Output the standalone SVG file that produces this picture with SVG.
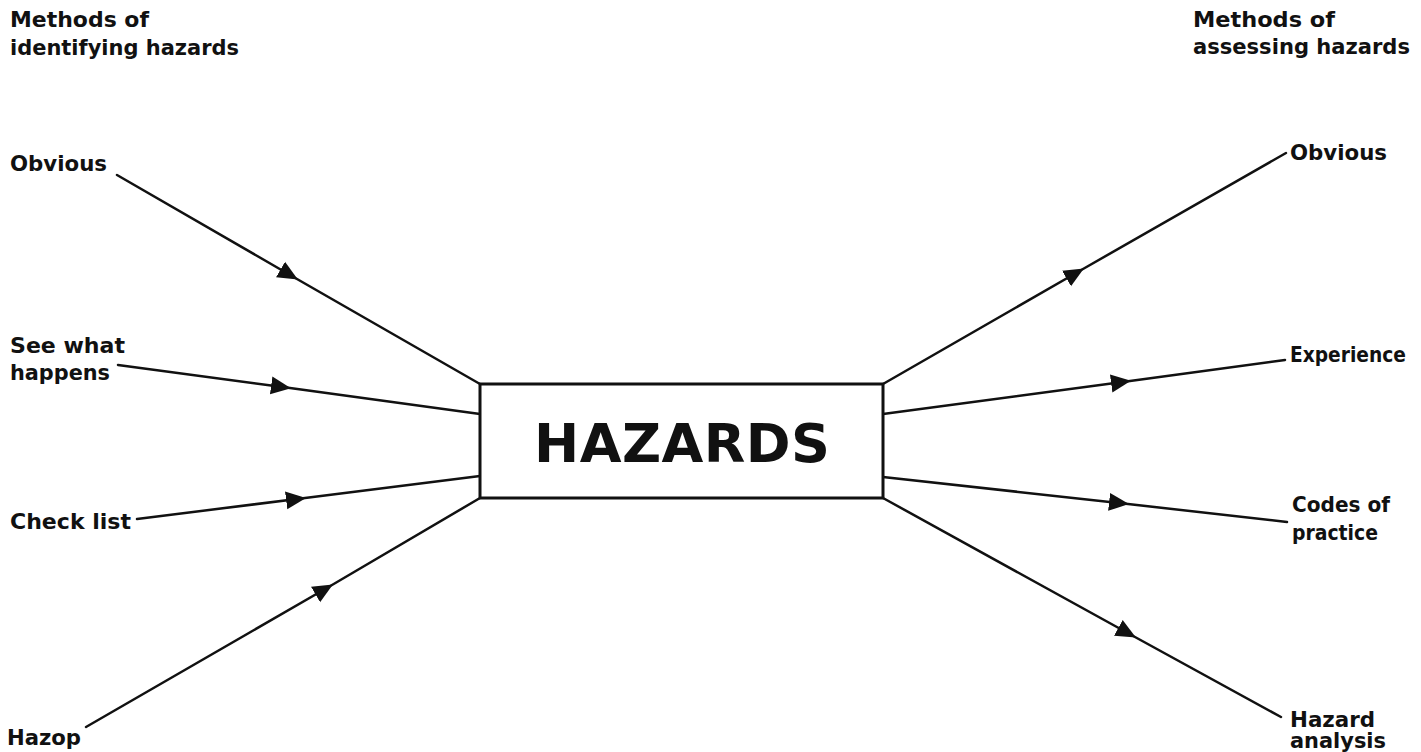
<svg xmlns="http://www.w3.org/2000/svg" width="1421" height="752" viewBox="0 0 1421 752">
  <style>
    .lbl { font-family: "DejaVu Sans", "Liberation Sans", Arial, sans-serif; font-weight: bold; font-size: 21px; fill: #111; }
    .title { font-family: "DejaVu Sans", "Liberation Sans", Arial, sans-serif; font-weight: bold; font-size: 54px; fill: #111; }
    .conn { fill: none; stroke: #111; stroke-width: 2.5; stroke-linecap: round; marker-mid: url(#arrow); }
    .box { fill: #fff; stroke: #111; stroke-width: 3; }
  </style>
  <defs>
    <marker id="arrow" markerUnits="userSpaceOnUse" viewBox="0 0 20 20" refX="19" refY="10" markerWidth="20" markerHeight="20" orient="auto">
      <path d="M0,1 L20,10 L0,19 z" fill="#111"/>
    </marker>
  </defs>
  <rect width="1421" height="752" fill="#fff"/>

  <g id="connectors">
    <path class="conn" d="M117,175 L297,279 L480,384"/>
    <path class="conn" d="M118,365 L290,388 L480,414"/>
    <path class="conn" d="M137,519 L305,498 L480,476"/>
    <path class="conn" d="M86,727 L332,585 L480,498"/>
    <path class="conn" d="M883,384 L1083,269 L1286,153"/>
    <path class="conn" d="M883,414 L1130,381 L1285,360"/>
    <path class="conn" d="M883,477 L1128,504 L1287,522"/>
    <path class="conn" d="M883,498 L1135,637 L1281,717"/>
  </g>

  <g id="hazards">
    <rect class="box" x="480" y="384" width="403" height="114"/>
    <text class="title" x="534" y="462" textLength="296" lengthAdjust="spacing">HAZARDS</text>
  </g>

  <g id="header-identifying">
    <text class="lbl" x="10" y="27" textLength="139" lengthAdjust="spacingAndGlyphs">Methods of</text>
    <text class="lbl" x="10" y="55" textLength="229" lengthAdjust="spacingAndGlyphs">identifying hazards</text>
  </g>
  <g id="header-assessing">
    <text class="lbl" x="1193" y="27" textLength="142" lengthAdjust="spacingAndGlyphs">Methods of</text>
    <text class="lbl" x="1193" y="54" textLength="217" lengthAdjust="spacingAndGlyphs">assessing hazards</text>
  </g>

  <g id="id-obvious">
    <text class="lbl" x="10" y="171" textLength="97" lengthAdjust="spacingAndGlyphs">Obvious</text>
  </g>
  <g id="id-see-what-happens">
    <text class="lbl" x="10" y="353" textLength="115" lengthAdjust="spacingAndGlyphs">See what</text>
    <text class="lbl" x="10" y="380" textLength="100" lengthAdjust="spacingAndGlyphs">happens</text>
  </g>
  <g id="id-check-list">
    <text class="lbl" x="10" y="529" textLength="121" lengthAdjust="spacingAndGlyphs">Check list</text>
  </g>
  <g id="id-hazop">
    <text class="lbl" x="7" y="745" textLength="74" lengthAdjust="spacingAndGlyphs">Hazop</text>
  </g>

  <g id="as-obvious">
    <text class="lbl" x="1290" y="160" textLength="97" lengthAdjust="spacingAndGlyphs">Obvious</text>
  </g>
  <g id="as-experience">
    <text class="lbl" x="1290" y="362" textLength="116" lengthAdjust="spacingAndGlyphs">Experience</text>
  </g>
  <g id="as-codes-of-practice">
    <text class="lbl" x="1292" y="512" textLength="98" lengthAdjust="spacingAndGlyphs">Codes of</text>
    <text class="lbl" x="1292" y="540" textLength="86" lengthAdjust="spacingAndGlyphs">practice</text>
  </g>
  <g id="as-hazard-analysis">
    <text class="lbl" x="1290" y="727" textLength="85" lengthAdjust="spacingAndGlyphs">Hazard</text>
    <text class="lbl" x="1290" y="748" textLength="96" lengthAdjust="spacingAndGlyphs">analysis</text>
  </g>
</svg>
